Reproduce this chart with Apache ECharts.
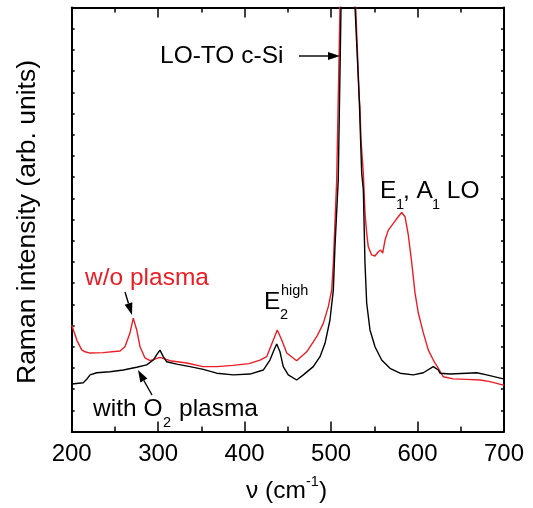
<!DOCTYPE html>
<html>
<head>
<meta charset="utf-8">
<script src="https://cdn.jsdelivr.net/npm/echarts@6/dist/echarts.min.js"></script>
<style>
  html, body { margin: 0; padding: 0; background: #fff; }
  #chart { width: 533px; height: 508px; }
</style>
</head>
<body>
<div id="chart"></div>
<script>
// Raman spectra: wavenumber (cm^-1) vs intensity (arbitrary units)
const xTicks = [200, 300, 400, 500, 600, 700];

const withoutPlasma = [
  [200, 5.02], [206, 4.3], [211.6, 3.85], [215.4, 3.76], [221.2, 3.70], [236.2, 3.72],
  [255.9, 3.80], [261.6, 4.0], [267.4, 4.65], [271.2, 5.35], [275.2, 4.79], [279.0, 4.0],
  [284.8, 3.47], [290.6, 3.34], [302.1, 3.50], [313.7, 3.34], [333, 3.23], [351.9, 3.06],
  [368, 3.06], [386.6, 3.12], [405, 3.2], [417.8, 3.37], [425.5, 3.53], [433.2, 4.32],
  [437.8, 4.79], [442.9, 4.32], [448.7, 3.70], [460.2, 3.34], [471.8, 3.76], [483.4, 4.47],
  [491.0, 5.10], [496.8, 5.89], [500.7, 6.67], [502.6, 7.93], [506.5, 11.86], [510.3, 20],
  [513, 30], [520, 60], [527, 30], [528.5, 20], [532.6, 15.73], [533.4, 15.3],
  [534.6, 13.75], [537.3, 12.19], [539.2, 10.31], [541.2, 9.36], [543.0, 8.72],
  [546.9, 8.33], [550.8, 8.28], [554.6, 8.48], [557.4, 8.56], [559.7, 8.41], [562.4, 9.03],
  [566.2, 9.50], [572.0, 9.82], [577.7, 10.13], [581.7, 10.33], [585.5, 10.13],
  [589.3, 9.27], [593.3, 7.95], [597.1, 6.53], [600.9, 5.59], [606.7, 4.65], [612.5, 3.84],
  [618.2, 3.37], [624.0, 2.98], [629.8, 2.58], [641.4, 2.48], [656.9, 2.46], [672.2, 2.43],
  [683.8, 2.35], [699.2, 2.19], [700, 2.18]
];

const withO2Plasma = [
  [200, 2.24], [213.4, 2.30], [217.3, 2.46], [221.2, 2.67], [228.9, 2.77], [244.3, 2.82],
  [259.7, 2.90], [275.2, 3.03], [286.7, 3.14], [294.4, 3.37], [299.0, 3.66], [302.1, 3.84],
  [305.9, 3.53], [309.9, 3.29], [321.4, 3.18], [336.8, 3.06], [352.2, 2.93], [367.7, 2.75],
  [386.9, 2.67], [406.2, 2.71], [421.6, 2.90], [429.3, 3.37], [434.0, 3.84], [437.1, 4.13],
  [440.9, 3.76], [444.7, 3.06], [450.5, 2.67], [460.2, 2.43], [467.9, 2.67], [479.4, 3.06],
  [487.2, 3.53], [493.0, 4.16], [498.7, 5.26], [502.6, 6.67], [504.5, 8.72], [508.3, 11.86],
  [511.5, 20], [514, 30], [520, 60], [526, 30], [527.7, 20], [532.6, 15.64], [535.4, 12.19],
  [537.3, 11.39], [539.2, 7.95], [541.2, 6.05], [545.0, 4.79], [550.8, 4.0], [558.5, 3.37],
  [568.1, 2.98], [579.7, 2.75], [595.1, 2.67], [606.7, 2.77], [618.2, 3.06], [624.0, 2.90],
  [626.0, 2.75], [637.5, 2.71], [656.9, 2.75], [668.4, 2.77], [680.0, 2.67], [699.2, 2.48],
  [700, 2.47]
];

const FONT = '"Liberation Sans", Arial, Helvetica, sans-serif';
const RED = '#ec1c24';
const BIG = 24.5;
const SMALL = 14.5;

const chart = echarts.init(document.getElementById('chart'), null, { renderer: 'canvas' });

function label(text, x, y, size, color, align) {
  return {
    type: 'text', x: x, y: y, z: 100,
    style: {
      text: text, fontSize: size, fontFamily: FONT, fill: color || '#000',
      align: align || 'left', verticalAlign: 'middle'
    }
  };
}
function arrow(x1, y1, x2, y2) {
  const ang = Math.atan2(y2 - y1, x2 - x1);
  const L = 12, W = 4;
  const bx = x2 - L * Math.cos(ang), by = y2 - L * Math.sin(ang);
  const px = -Math.sin(ang) * W, py = Math.cos(ang) * W;
  return [
    { type: 'line', z: 100, shape: { x1: x1, y1: y1, x2: bx, y2: by }, style: { stroke: '#000', lineWidth: 1.4 } },
    { type: 'polygon', z: 100, shape: { points: [[x2, y2], [bx + px, by + py], [bx - px, by - py]] }, style: { fill: '#000' } }
  ];
}

const frameAxisX = {
  type: 'value', min: 200, max: 700, interval: 100,
  axisLine: { show: true, onZero: false, lineStyle: { color: '#000', width: 2 } },
  axisTick: { show: true, inside: true, length: 10, lineStyle: { color: '#000', width: 1.5 } },
  minorTick: { show: true, splitNumber: 2, length: 5, lineStyle: { color: '#000', width: 1.5 } },
  splitLine: { show: false }, minorSplitLine: { show: false }
};
const frameAxisY = {
  type: 'value', min: 0, max: 20, interval: 1,
  axisLine: { show: true, onZero: false, lineStyle: { color: '#000', width: 2 } },
  axisTick: { show: true, inside: true, length: 3, lineStyle: { color: '#000', width: 1.5 } },
  axisLabel: { show: false },
  splitLine: { show: false }
};

chart.setOption({
  animation: false,
  backgroundColor: '#fff',
  grid: { left: 71.7, right: 29, top: 7.5, bottom: 76.5, containLabel: false },
  xAxis: [
    Object.assign({}, frameAxisX, {
      position: 'bottom',
      axisLabel: {
        show: true, margin: 11, fontSize: 24, fontFamily: FONT, color: '#000',
        formatter: v => (xTicks.indexOf(v) >= 0 ? String(v) : '')
      }
    }),
    Object.assign({}, frameAxisX, { position: 'top', axisLabel: { show: false } })
  ],
  yAxis: [
    Object.assign({}, frameAxisY, { position: 'left' }),
    Object.assign({}, frameAxisY, { position: 'right' })
  ],
  series: [
    {
      name: 'w/o plasma', type: 'line', data: withoutPlasma, showSymbol: false,
      xAxisIndex: 0, yAxisIndex: 0, clip: true,
      lineStyle: { color: RED, width: 1.4 }, z: 2
    },
    {
      name: 'with O2 plasma', type: 'line', data: withO2Plasma, showSymbol: false,
      xAxisIndex: 0, yAxisIndex: 0, clip: true,
      lineStyle: { color: '#000', width: 1.4 }, z: 3
    }
  ],
  graphic: [
    // axis titles
    {
      type: 'text', x: 28, y: 222, rotation: Math.PI / 2, z: 100,
      style: { text: 'Raman intensity (arb. units)', fontSize: 26.5, fontFamily: FONT, fill: '#000', align: 'center', verticalAlign: 'middle' }
    },
    label('\u03bd (cm', 246, 491, BIG),
    label('-1', 306, 482, SMALL),
    label(')', 319, 491, BIG),

    // peak annotations
    label('LO-TO c-Si', 160, 56, BIG),
    ...arrow(299, 56, 340, 56),

    label('E', 380, 191, BIG),
    label('1', 396, 205, SMALL),
    label(', A', 403, 191, BIG),
    label('1', 432, 205, SMALL),
    label(' LO', 440, 191, BIG),

    label('E', 264, 302, BIG),
    label('2', 280, 315, SMALL),
    label('high', 281, 291, SMALL),

    label('w/o plasma', 85, 278, BIG, RED),
    ...arrow(125, 292, 132, 315),

    label('with O', 93, 409, BIG),
    label('2', 163, 423, SMALL),
    label('plasma', 179, 409, BIG),
    ...arrow(152, 395, 138, 370)
  ]
});
</script>
</body>
</html>
